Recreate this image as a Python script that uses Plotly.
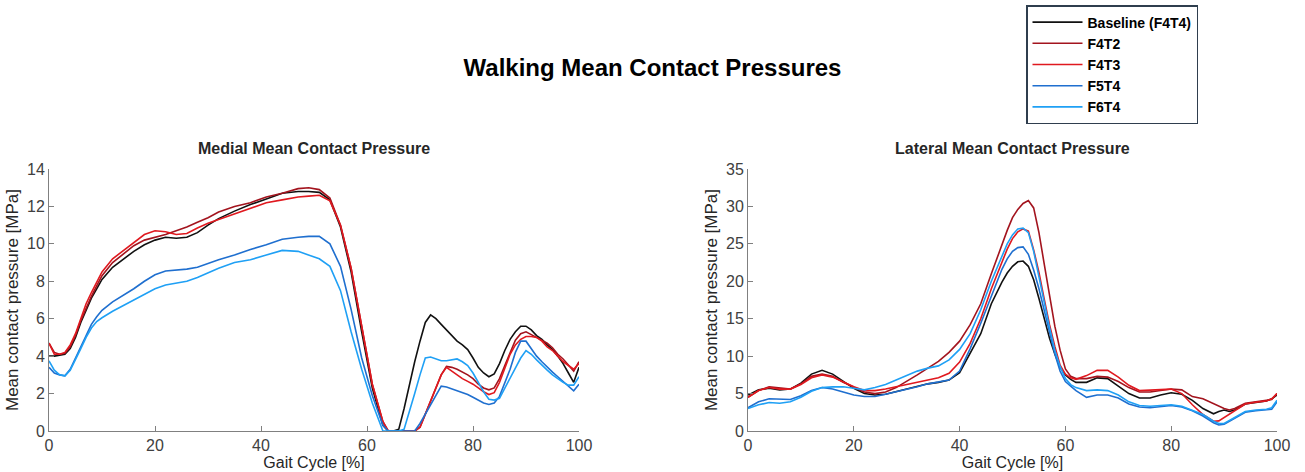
import plotly.graph_objects as go

# ---------------- data ----------------
X_MED = [0, 1, 2, 3, 4, 5, 6, 7, 8, 9, 10, 12, 14, 16, 18, 20, 22, 24, 26, 28, 30, 32,
         35, 38, 41, 44, 47, 49, 51, 53, 55, 57, 59, 61, 63, 64, 65, 66, 67, 68, 69, 70,
         71, 72, 73, 74, 75, 76, 77, 78, 79, 80, 81, 82, 83, 84, 85, 86, 87, 88, 89, 90,
         91, 92, 93, 94, 95, 96, 97, 98, 99, 100]

MED_BASE = [4.0, 4.0, 4.05, 4.1, 4.4, 5.0, 5.8, 6.5, 7.1, 7.6, 8.1, 8.75, 9.2, 9.6, 9.95, 10.2,
            10.35, 10.3, 10.35, 10.6, 11.0, 11.35, 11.75, 12.1, 12.4, 12.7, 12.8, 12.8, 12.75,
            12.35, 10.9, 8.5, 5.3, 2.3, 0.3, 0, 0, 0.1, 1.2, 2.5, 3.7, 4.8, 5.8, 6.2, 6.0,
            5.7, 5.4, 5.15, 4.8, 4.6, 4.35, 3.9, 3.4, 3.1, 2.9, 3.05, 3.6, 4.3, 4.9, 5.3, 5.6,
            5.6, 5.4, 5.1, 4.9, 4.6, 4.35, 4.0, 3.6, 3.1, 2.6, 3.4]
MED_F4T2 = [4.7, 4.2, 4.1, 4.15, 4.5, 5.1, 5.9, 6.6, 7.2, 7.75, 8.3, 9.0, 9.45, 9.9, 10.2, 10.35,
            10.5, 10.7, 10.9, 11.15, 11.4, 11.7, 12.0, 12.2, 12.5, 12.7, 12.95, 13.0, 12.9,
            12.45, 11.0, 8.7, 5.5, 2.5, 0.5, 0, 0, 0, 0, 0, 0, 0.2, 0.9, 1.6, 2.3, 3.0, 3.45,
            3.4, 3.3, 3.15, 3.0, 2.8, 2.5, 2.3, 2.2, 2.3, 2.8, 3.5, 4.2, 4.85, 5.2, 5.3, 5.15,
            5.0, 4.85, 4.7, 4.45, 4.1, 3.85, 3.55, 3.2, 3.7]
MED_F4T3 = [4.7, 4.1, 4.1, 4.2, 4.6, 5.2, 6.0, 6.8, 7.4, 7.95, 8.5, 9.2, 9.65, 10.1, 10.5, 10.7,
            10.65, 10.5, 10.55, 10.85, 11.1, 11.3, 11.6, 11.9, 12.2, 12.35, 12.5, 12.55, 12.6,
            12.3, 11.0, 8.7, 5.5, 2.5, 0.5, 0, 0, 0, 0, 0, 0, 0.2, 0.9, 1.6, 2.3, 3.0, 3.4,
            3.2, 3.0, 2.8, 2.65, 2.5, 2.3, 2.1, 1.95, 2.05, 2.6, 3.3, 4.1, 4.6, 4.9, 5.05,
            5.05, 5.0, 4.8, 4.5, 4.3, 4.0, 3.7, 3.5, 3.3, 3.6]
MED_F5T4 = [3.4, 3.1, 3.0, 2.95, 3.3, 3.9, 4.5, 5.1, 5.7, 6.1, 6.45, 6.9, 7.25, 7.6, 8.0, 8.35,
            8.55, 8.6, 8.65, 8.75, 8.95, 9.15, 9.4, 9.7, 9.95, 10.25, 10.35, 10.4, 10.4, 10.0,
            8.8, 6.5, 3.9, 1.9, 0.3, 0, 0, 0, 0, 0, 0, 0.4, 0.9, 1.4, 1.9, 2.4, 2.35, 2.25,
            2.15, 2.05, 1.95, 1.8, 1.65, 1.5, 1.42, 1.5, 1.85, 2.6, 3.3, 4.2, 4.8, 4.8, 4.4,
            4.0, 3.7, 3.4, 3.15, 2.9, 2.65, 2.4, 2.15, 2.5]
MED_F6T4 = [3.75, 3.25, 3.0, 2.95, 3.25, 3.8, 4.4, 5.0, 5.5, 5.85, 6.05, 6.4, 6.7, 7.0, 7.3, 7.6,
            7.8, 7.9, 8.0, 8.2, 8.45, 8.7, 9.0, 9.15, 9.4, 9.65, 9.6, 9.4, 9.2, 8.8, 7.5, 5.3,
            3.3, 1.5, 0, 0, 0, 0, 0.1, 1.0, 2.0, 3.0, 3.9, 3.95, 3.85, 3.75, 3.75, 3.8, 3.85,
            3.7, 3.5, 3.1, 2.6, 2.1, 1.7, 1.65, 1.75, 2.3, 2.8, 3.4, 3.9, 4.3, 4.1, 3.8, 3.5,
            3.25, 3.0, 2.8, 2.6, 2.45, 2.45, 2.9]

X_LAT = [0, 2, 4, 6, 8, 10, 12, 14, 16, 18, 20, 22, 24, 26, 28, 30, 32, 34, 36, 38, 40, 42, 44,
         46, 48, 49, 50, 51, 52, 53, 54, 55, 56, 57, 58, 59, 60, 61, 62, 64, 66, 68, 70, 72,
         74, 76, 78, 80, 82, 84, 86, 88, 89, 90, 91, 92, 94, 96, 98, 99, 100]

LAT_BASE = [4.8, 5.5, 5.7, 5.5, 5.6, 6.4, 7.6, 8.1, 7.6, 6.6, 5.7, 5.0, 4.8, 4.9, 5.25, 5.5, 5.9,
            6.3, 6.5, 6.8, 7.8, 10.5, 13.0, 17.0, 19.9, 21.1, 22.0, 22.6, 22.7, 22.0, 20.2,
            17.7, 15.0, 12.4, 10.3, 8.5, 7.5, 6.9, 6.5, 6.5, 7.1, 7.0, 6.0, 5.0, 4.4, 4.4,
            4.8, 5.1, 4.9, 4.1, 3.0, 2.3, 2.6, 2.8, 2.6, 2.8, 3.6, 3.8, 4.0, 4.3, 4.8]
LAT_F4T2 = [4.5, 5.4, 5.9, 5.7, 5.6, 6.3, 7.3, 7.6, 7.3, 6.5, 5.8, 5.2, 5.0, 5.2, 5.8, 6.6, 7.5,
            8.4, 9.3, 10.5, 12.0, 14.2, 17.0, 21.0, 25.0, 26.8, 28.5, 29.6, 30.4, 30.8, 29.8,
            26.5, 22.3, 18.2, 14.0, 10.8, 8.3, 7.3, 7.0, 7.0, 7.3, 7.2, 6.6, 5.8, 5.2, 5.2,
            5.4, 5.6, 5.5, 4.6, 4.3, 3.6, 3.3, 3.0, 2.8, 3.0, 3.7, 3.9, 4.0, 4.2, 5.0]
LAT_F4T3 = [4.5, 5.4, 5.8, 5.6, 5.6, 6.2, 7.1, 7.5, 7.2, 6.5, 5.9, 5.4, 5.4, 5.6, 5.9, 6.1, 6.5,
            6.8, 7.1, 7.7, 9.2, 11.7, 15.0, 19.0, 22.6, 24.3, 25.7, 26.6, 27.0, 26.7, 24.2,
            21.2, 17.6, 14.2, 11.3, 8.8, 7.6, 7.1, 6.9, 7.4, 8.1, 8.1, 7.2, 6.1, 5.4, 5.5,
            5.6, 5.6, 5.0, 3.5, 2.2, 1.3, 1.35, 1.8, 2.3, 2.8, 3.6, 3.85, 4.0, 4.3, 5.0]
LAT_F5T4 = [3.1, 3.9, 4.3, 4.3, 4.2, 4.7, 5.4, 5.8, 5.6, 5.2, 4.8, 4.6, 4.6, 4.9, 5.2, 5.5, 5.9,
            6.3, 6.5, 6.8, 8.0, 11.0, 14.4, 18.0, 21.6, 23.0, 24.0, 24.5, 24.6, 23.6, 21.5,
            19.0, 16.0, 13.0, 10.3, 8.0, 6.6, 6.0, 5.4, 4.5, 4.8, 4.8, 4.4, 3.6, 3.2, 3.1,
            3.3, 3.4, 3.2, 2.7, 2.0, 1.1, 0.8, 0.9, 1.3, 1.7, 2.5, 2.7, 2.8, 2.9, 3.9]
LAT_F6T4 = [3.0, 3.5, 3.8, 3.7, 3.9, 4.5, 5.3, 5.8, 5.9, 5.9, 5.7, 5.5, 5.8, 6.2, 6.8, 7.4, 8.0,
            8.4, 8.7, 9.5, 10.9, 13.0, 16.2, 20.0, 23.4, 25.0, 26.2, 27.0, 27.1, 26.5, 24.0,
            20.6, 17.0, 13.8, 10.8, 8.6, 7.0, 6.2, 5.8, 5.4, 5.5, 5.4, 4.8, 3.9, 3.4, 3.3,
            3.4, 3.5, 3.3, 2.8, 2.2, 1.3, 1.0, 1.0, 1.4, 1.9, 2.6, 2.8, 2.9, 3.1, 4.1]

NAMES = ["Baseline (F4T4)", "F4T2", "F4T3", "F5T4", "F6T4"]
COLORS = ["#111111", "#A3141E", "#E0191F", "#1F6FCF", "#1FA0F5"]
MED = [MED_BASE, MED_F4T2, MED_F4T3, MED_F5T4, MED_F6T4]
LAT = [LAT_BASE, LAT_F4T2, LAT_F4T3, LAT_F5T4, LAT_F6T4]

X_TICKS = [0, 20, 40, 60, 80, 100]
MED_TICKS = [0, 2, 4, 6, 8, 10, 12, 14]
LAT_TICKS = [0, 5, 10, 15, 20, 25, 30, 35]

# ---------------- figure ----------------
W, H = 1305, 472
fig = go.Figure()

for name, col, y in zip(NAMES, COLORS, MED):
    fig.add_trace(go.Scatter(x=X_MED, y=y, mode="lines", name=name,
                             line=dict(color=col, width=1.6),
                             xaxis="x", yaxis="y", showlegend=True))
for name, col, y in zip(NAMES, COLORS, LAT):
    fig.add_trace(go.Scatter(x=X_LAT, y=y, mode="lines", name=name,
                             line=dict(color=col, width=1.6),
                             xaxis="x2", yaxis="y2", showlegend=False))

FONT = "Liberation Sans, Arial, Helvetica, sans-serif"
TICKFONT = dict(family=FONT, size=16, color="#404040")
XTITLEFONT = dict(family=FONT, size=16, color="#262626")
YTITLEFONT = dict(family=FONT, size=17, color="#262626")

def xaxis(dom, anchor):
    return dict(domain=dom, anchor=anchor, range=[0, 100], tickvals=X_TICKS,
                showgrid=False, zeroline=False, showline=True, linecolor="#808080",
                linewidth=1, ticks="inside", ticklen=5, tickcolor="#808080",
                tickfont=TICKFONT, title=dict(text="Gait Cycle [%]", font=XTITLEFONT, standoff=1),
                automargin=False, mirror=False)

def yaxis(dom, anchor, rng, tv):
    return dict(domain=dom, anchor=anchor, range=rng, tickvals=tv,
                showgrid=False, zeroline=False, showline=True, linecolor="#808080",
                linewidth=1, ticks="inside", ticklen=5, tickcolor="#808080",
                tickfont=TICKFONT,
                title=dict(text="Mean contact pressure [MPa]", font=YTITLEFONT, standoff=4),
                automargin=False)

ydom = [(H - 431) / H, (H - 169) / H]
fig.update_layout(
    width=W, height=H,
    margin=dict(l=0, r=0, t=0, b=0),
    paper_bgcolor="white", plot_bgcolor="white",
    xaxis=xaxis([49 / W, 579 / W], "y"),
    yaxis=yaxis(ydom, "x", [0, 14], MED_TICKS),
    xaxis2=xaxis([748 / W, 1277 / W], "y2"),
    yaxis2=yaxis(ydom, "x2", [0, 35], LAT_TICKS),
    title=dict(text="<b>Walking Mean Contact Pressures</b>", x=0.5, xanchor="center",
               y=1 - 68 / H, yanchor="middle",
               font=dict(family=FONT, size=24, color="#000000")),
    legend=dict(x=1026 / W, y=1 - 5 / H, xanchor="left", yanchor="top",
                bgcolor="white", bordercolor="#2F3E4E", borderwidth=1.5,
                font=dict(family=FONT, size=14, color="#000000", weight="bold"),
                tracegroupgap=0, itemwidth=50),
    annotations=[
        dict(text="<b>Medial Mean Contact Pressure</b>", x=(49 + 579) / 2 / W, y=1 - 148 / H,
             xref="paper", yref="paper", showarrow=False, xanchor="center", yanchor="middle",
             font=dict(family=FONT, size=16, color="#262626")),
        dict(text="<b>Lateral Mean Contact Pressure</b>", x=(748 + 1277) / 2 / W, y=1 - 148 / H,
             xref="paper", yref="paper", showarrow=False, xanchor="center", yanchor="middle",
             font=dict(family=FONT, size=16, color="#262626")),
    ],
)

fig.write_html("out.html")
